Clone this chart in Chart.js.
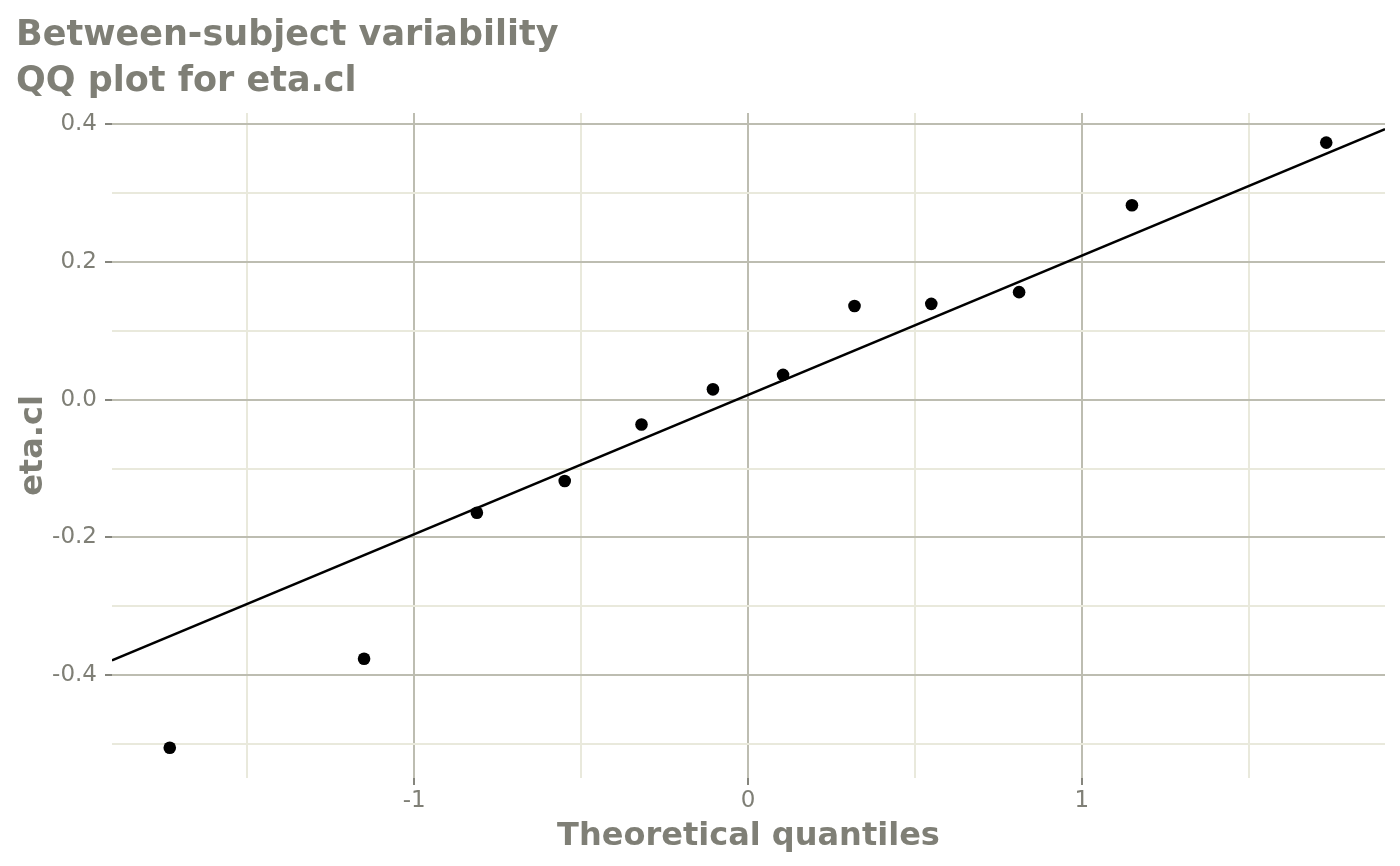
<!DOCTYPE html>
<html>
<head>
<meta charset="utf-8">
<script src="https://cdn.jsdelivr.net/npm/chart.js@4"></script>
<style>
html, body { margin: 0; padding: 0; background: #ffffff; }
#wrap { width: 1400px; height: 866px; position: relative; }
</style>
</head>
<body>
<div id="wrap"><canvas id="c"></canvas></div>
<script>
// ---- data ----
const theoreticalQuantiles = [-1.732, -1.150, -0.812, -0.549, -0.319, -0.105, 0.105, 0.319, 0.549, 0.812, 1.150, 1.732];
const etaCl = [-0.505, -0.376, -0.164, -0.118, -0.036, 0.015, 0.036, 0.136, 0.139, 0.156, 0.282, 0.373];

const xTickValues = [-1.5, -1, -0.5, 0, 0.5, 1, 1.5];
const xTickLabels = ['', '-1', '', '0', '', '1', ''];
const xMajor = [false, true, false, true, false, true, false];

const yTickValues = [-0.5, -0.4, -0.3, -0.2, -0.1, 0.0, 0.1, 0.2, 0.3, 0.4];
const yTickLabels = ['', '-0.4', '', '-0.2', '', '0.0', '', '0.2', '', '0.4'];
const yMajor = [false, true, false, true, false, true, false, true, false, true];

const xLimits = [-1.905, 1.908];
const yLimits = [-0.549, 0.416];

const titleLines = ['Between-subject variability', 'QQ plot for eta.cl'];
const xTitle = 'Theoretical quantiles';
const yTitle = 'eta.cl';

// ---- reference line through the quartiles (like qqline) ----
function quantile7(arr, p) {
  const s = arr.slice().sort((a, b) => a - b);
  const h = (s.length - 1) * p;
  const lo = Math.floor(h);
  return s[lo] + (h - lo) * ((s[lo + 1] !== undefined ? s[lo + 1] : s[lo]) - s[lo]);
}
const zq = 0.6744898;
const q1 = quantile7(etaCl, 0.25), q3 = quantile7(etaCl, 0.75);
const slope = (q3 - q1) / (2 * zq);
const intercept = q1 + zq * slope;
const lineData = xLimits.map(x => ({ x: x, y: intercept + slope * x }));

// ---- styling ----
const textGrey = '#7f7f76';
const majorGrid = '#bdbdb1';
const minorGrid = '#e9e9dc';
const tickMark = '#85857d';

function idxOf(arr, v) {
  for (let i = 0; i < arr.length; i++) if (Math.abs(arr[i] - v) < 1e-9) return i;
  return -1;
}

new Chart(document.getElementById('c'), {
  data: {
    datasets: [
      {
        type: 'line',
        data: lineData,
        borderColor: '#000000',
        borderWidth: 2.5,
        pointRadius: 0,
        fill: false,
        order: 2
      },
      {
        type: 'scatter',
        data: theoreticalQuantiles.map((x, i) => ({ x: x, y: etaCl[i] })),
        backgroundColor: '#000000',
        borderWidth: 0,
        pointRadius: 6.3,
        pointHoverRadius: 6.3,
        order: 1
      }
    ]
  },
  options: {
    responsive: true,
    maintainAspectRatio: false,
    animation: false,
    devicePixelRatio: 1,
    layout: { padding: { left: 16, right: 15, top: 0, bottom: 0 } },
    plugins: {
      legend: { display: false },
      tooltip: { enabled: false },
      title: {
        display: true,
        text: titleLines,
        align: 'start',
        color: textGrey,
        font: { family: 'DejaVu Sans', size: 35, weight: 'bold', lineHeight: 1.314 },
        padding: { top: 13, bottom: 8 }
      }
    },
    scales: {
      x: {
        type: 'linear',
        min: xLimits[0],
        max: xLimits[1],
        afterBuildTicks: (s) => { s.ticks = xTickValues.map(v => ({ value: v })); },
        afterFit: (s) => { s.height = 88; },
        border: { display: false },
        grid: {
          color: (ctx) => { const i = idxOf(xTickValues, ctx.tick.value); return xMajor[i] ? majorGrid : minorGrid; },
          lineWidth: 2,
          drawTicks: true,
          tickLength: 7,
          tickWidth: 2,
          tickColor: (ctx) => { const i = idxOf(xTickValues, ctx.tick.value); return xMajor[i] ? tickMark : 'rgba(0,0,0,0)'; }
        },
        ticks: {
          autoSkip: false,
          maxRotation: 0,
          padding: 2,
          color: textGrey,
          font: { family: 'DejaVu Sans', size: 23 },
          callback: (v) => { const i = idxOf(xTickValues, v); return i >= 0 ? xTickLabels[i] : ''; }
        },
        title: {
          display: true,
          text: xTitle,
          color: textGrey,
          font: { family: 'DejaVu Sans', size: 32, weight: 'bold', lineHeight: 1.2 },
          padding: { top: 0, bottom: 10 }
        }
      },
      y: {
        type: 'linear',
        min: yLimits[0],
        max: yLimits[1],
        afterBuildTicks: (s) => { s.ticks = yTickValues.map(v => ({ value: v })); },
        afterFit: (s) => { s.width = 96; },
        border: { display: false },
        grid: {
          color: (ctx) => { const i = idxOf(yTickValues, ctx.tick.value); return yMajor[i] ? majorGrid : minorGrid; },
          lineWidth: 2,
          drawTicks: true,
          tickLength: 7,
          tickWidth: 2,
          tickColor: (ctx) => { const i = idxOf(yTickValues, ctx.tick.value); return yMajor[i] ? tickMark : 'rgba(0,0,0,0)'; }
        },
        ticks: {
          autoSkip: false,
          padding: 8,
          color: textGrey,
          font: { family: 'DejaVu Sans', size: 23 },
          callback: (v) => { const i = idxOf(yTickValues, v); return i >= 0 ? yTickLabels[i] : ''; }
        },
        title: {
          display: true,
          text: yTitle,
          color: textGrey,
          font: { family: 'DejaVu Sans', size: 32, weight: 'bold', lineHeight: 1.0 },
          padding: { top: 2, bottom: 0 }
        }
      }
    }
  }
});
</script>
</body>
</html>
